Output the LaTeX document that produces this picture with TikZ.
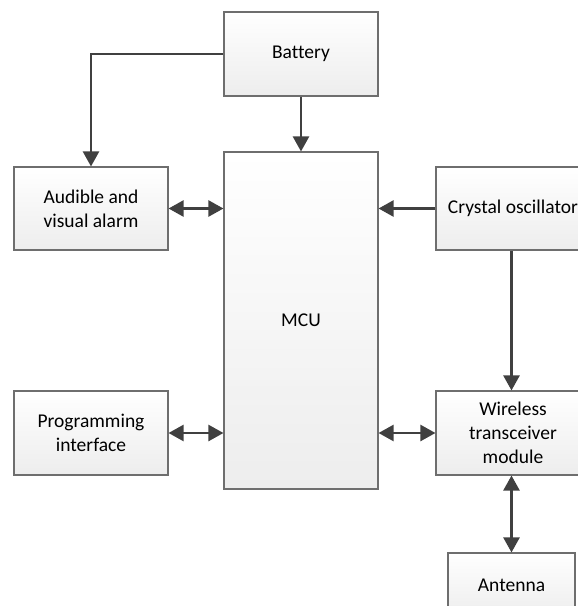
\documentclass[tikz,border=0pt]{standalone}
\usepackage{fontspec}
\setmainfont[Ligatures={NoCommon}]{Carlito}
\usetikzlibrary{arrows.meta,shadings}
\definecolor{linecol}{RGB}{64,64,64}
\definecolor{boxborder}{RGB}{110,110,110}
\definecolor{boxbottom}{RGB}{237,237,237}
\tikzset{
  blockbox/.style={draw=boxborder, line width=1.1pt, top color=white, bottom color=boxbottom,
    inner sep=0pt, align=center, font=\fontsize{19.5}{24}\selectfont},
  conn/.style={draw=linecol, line width=2.4pt, -{Triangle[length=15pt,width=16pt]}},
  biconn/.style={draw=linecol, line width=2.4pt, {Triangle[length=15pt,width=16pt]}-{Triangle[length=15pt,width=16pt]}},
  plain/.style={draw=linecol, line width=2.4pt}
}
\begin{document}
\begin{tikzpicture}[x=1pt,y=-1pt]
\useasboundingbox (0,0) rectangle (578,606);
\node[blockbox, minimum width=154pt, minimum height=84pt] (bat) at (301,54) {Battery};
\node[blockbox, minimum width=154pt, minimum height=337pt] (mcu) at (301,320.5) {MCU};
\node[blockbox, minimum width=154pt, minimum height=83pt] (aud) at (91,208.5) {Audible and\\visual alarm};
\node[blockbox, minimum width=154pt, minimum height=84pt] (prog) at (91,433) {Programming\\interface};
\node[blockbox, minimum width=154pt, minimum height=83pt] (cry) at (513,208.5) {Crystal oscillator};
\node[blockbox, minimum width=154pt, minimum height=84pt] (wir) at (513,433) {Wireless\\transceiver\\module};
\node[blockbox, minimum width=127pt, minimum height=64pt] (ant) at (511.5,585) {Antenna};

\draw[conn] (bat.west) -| (aud.north);
\draw[conn] (bat.south) -- (mcu.north);
\draw[biconn] (aud.east) -- (mcu.west |- aud.east);
\draw[biconn] (prog.east) -- (mcu.west |- prog.east);
\draw[conn] (cry.west) -- (mcu.east |- cry.west);
\draw[biconn] (wir.west) -- (mcu.east |- wir.west);
\draw[conn] (cry.south -| ant.north) -- (ant.north |- wir.north);
\draw[biconn] (ant.north |- wir.south) -- (ant.north);
\end{tikzpicture}
\end{document}
